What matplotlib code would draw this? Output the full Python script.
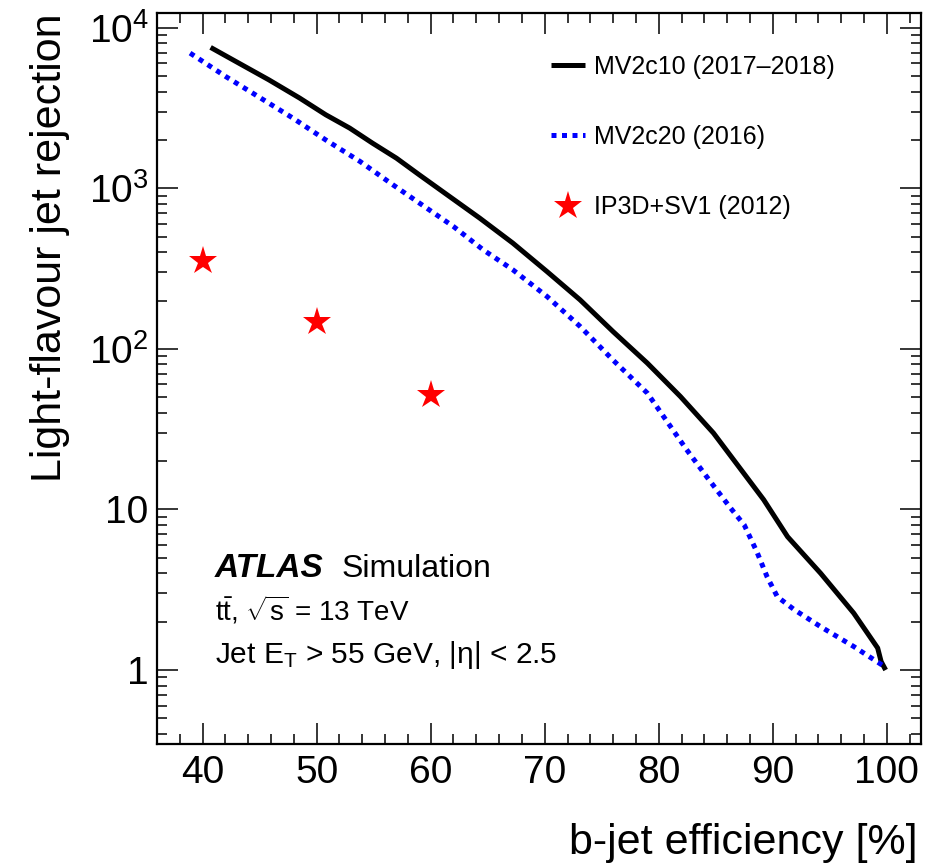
import matplotlib
matplotlib.use('Agg')
import matplotlib.pyplot as plt
from matplotlib.ticker import FixedLocator, FixedFormatter, MultipleLocator, LogLocator, NullFormatter

plt.rcParams['font.family'] = ['Liberation Sans', 'DejaVu Sans']
plt.rcParams['mathtext.fontset'] = 'custom'
plt.rcParams['mathtext.rm'] = 'Liberation Sans'
plt.rcParams['mathtext.it'] = 'Liberation Sans:italic'
plt.rcParams['mathtext.bf'] = 'Liberation Sans:bold'

# MV2c10 (2017-2018)
eff_mv2c10 = [40.7, 42.9, 45.8, 48.5, 50.8, 52.9, 54.9, 57.0, 59.0, 64.3, 67.2,
              70.2, 73.1, 76.0, 79.0, 81.9, 84.8, 89.2, 91.3, 94.2, 97.1, 99.2, 99.5, 99.9]
rej_mv2c10 = [7540, 6170, 4740, 3650, 2870, 2370, 1910, 1540, 1213, 652, 456,
              303, 202, 128, 81.5, 50.5, 29.9, 11.5, 6.76, 4.0, 2.26, 1.37, 1.13, 1.0]

# MV2c20 (2016)
eff_mv2c20 = [38.9, 42.0, 45.0, 47.9, 50.8, 53.8, 56.7, 60.5, 62.0, 64.6, 67.2,
              70.2, 73.1, 76.0, 79.0, 82.4, 84.2, 86.3, 87.5, 88.6, 89.5,
              90.4, 91.9, 94.2, 97.1, 99.8]
rej_mv2c20 = [6950, 4980, 3680, 2740, 2000, 1470, 1050, 684, 578, 414, 311,
              212, 138, 85, 53, 23.8, 16, 10.2, 8.0, 5.46, 3.81,
              2.86, 2.37, 1.86, 1.40, 1.05]

# IP3D+SV1 (2012)
eff_ip3d = [40, 50, 60]
rej_ip3d = [350, 146, 51.7]

x_ticks = [40, 50, 60, 70, 80, 90, 100]
y_ticks = [1, 10, 100, 1000, 10000]
y_tick_labels = ['1', '10', r'$\mathregular{10^{2}}$', r'$\mathregular{10^{3}}$', r'$\mathregular{10^{4}}$']

W, H = 930, 868
fig = plt.figure(figsize=(W / 100, H / 100), dpi=100)
ax = fig.add_axes([157 / W, 1 - 744 / H, (921 - 157) / W, (744 - 13) / H])

ax.plot(eff_mv2c10, rej_mv2c10, color='black', lw=3.6, solid_capstyle='butt',
        solid_joinstyle='round', label='MV2c10 (2017\u20132018)')
ax.plot(eff_mv2c20, rej_mv2c20, color='#0000ff', lw=3.6, linestyle=(0, (1, 1.1)),
        dash_capstyle='butt', label='MV2c20 (2016)')
ax.plot(eff_ip3d, rej_ip3d, linestyle='none', marker='*', color='red', ms=21,
        markeredgewidth=0, label='IP3D+SV1 (2012)')

ax.set_yscale('log')
ax.set_xlim(36, 103)
ax.set_ylim(0.346, 12350)

ax.xaxis.set_major_locator(FixedLocator(x_ticks))
ax.xaxis.set_minor_locator(MultipleLocator(2))
ax.yaxis.set_major_locator(FixedLocator(y_ticks))
ax.yaxis.set_major_formatter(FixedFormatter(y_tick_labels))
ax.yaxis.set_minor_locator(LogLocator(base=10, subs=range(2, 10)))
ax.yaxis.set_minor_formatter(NullFormatter())

ax.tick_params(which='both', direction='in', top=True, right=True, width=1.1, labelsize=28)
ax.tick_params(which='major', length=15)
ax.tick_params(which='minor', length=7.5)
ax.tick_params(axis='x', which='major', pad=8)
ax.tick_params(axis='y', which='major', pad=6)
for s in ax.spines.values():
    s.set_linewidth(1.6)

fig.text(918 / W, 1 - 843 / H, 'b-jet efficiency [%]', ha='right', va='center', fontsize=31)
fig.text(50 / W, 1 - 14 / H, 'Light-flavour jet rejection', rotation=90,
         ha='center', va='top', fontsize=31)

fig.text(215 / W, 1 - 577 / H, 'ATLAS', fontsize=24, fontweight='bold', fontstyle='italic',
         va='baseline')
fig.text(342 / W, 1 - 577 / H, 'Simulation', fontsize=23, va='baseline')
fig.text(215 / W, 1 - 621 / H, r'$\mathrm{t\bar{t}}$, $\sqrt{\mathrm{s}}$ = 13 TeV',
         fontsize=20, va='baseline')
fig.text(215 / W, 1 - 663 / H, r'Jet $\mathrm{E_{T}}$ > 55 GeV, |η| < 2.5',
         fontsize=21.5, va='baseline')

leg = ax.legend(loc='center left', bbox_to_anchor=(551 / W, 1 - 137 / H),
                bbox_transform=fig.transFigure, frameon=False, fontsize=18,
                handlelength=1.35, handletextpad=0.35, labelspacing=1.85,
                borderpad=0, borderaxespad=0, numpoints=1)

fig.savefig('out.png', dpi=100)
